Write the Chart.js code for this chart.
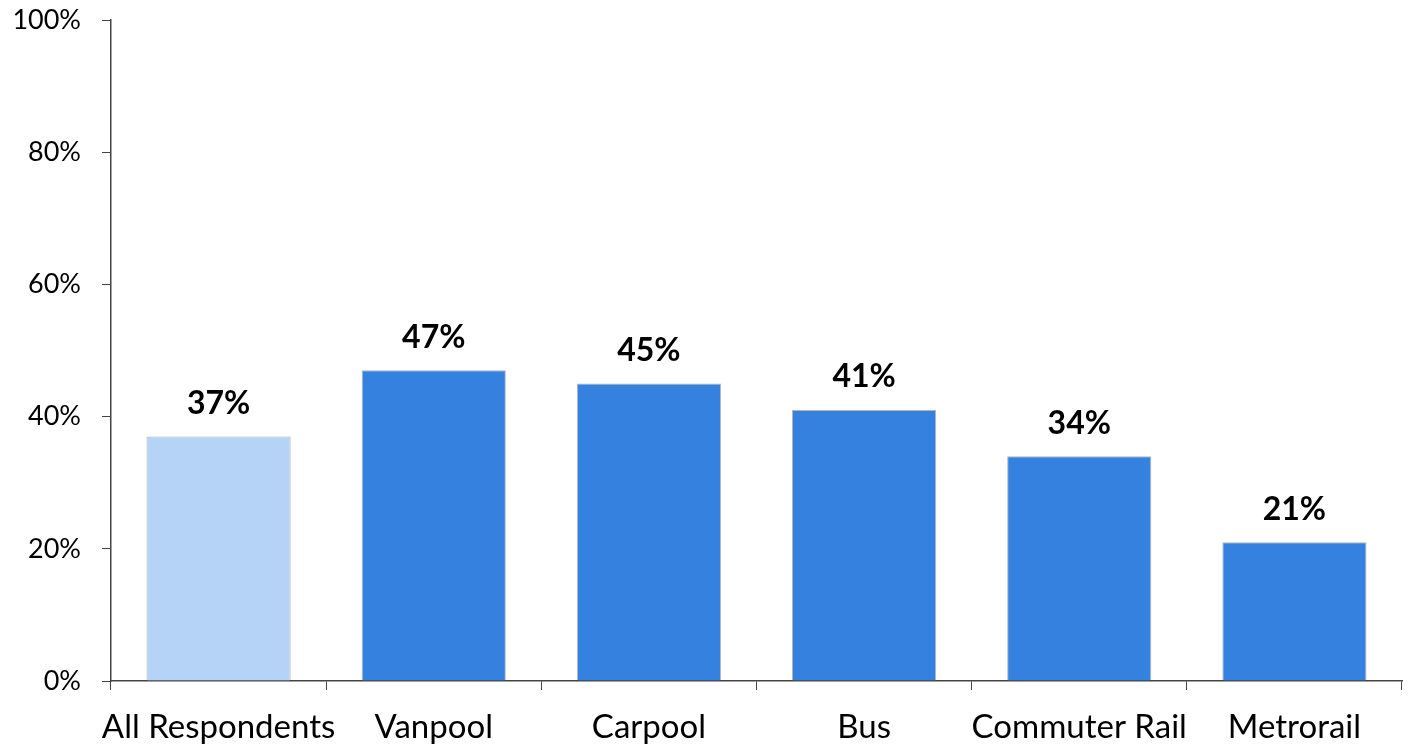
<!DOCTYPE html>
<html>
<head>
<meta charset="utf-8">
<script src="https://cdn.jsdelivr.net/npm/chart.js@4.4.1/dist/chart.umd.min.js"></script>
<style>
    html, body { margin: 0; padding: 0; background: #fff; }
    #wrap { width: 1412px; height: 746px; }
</style>
</head>
<body>
<div id="wrap"><canvas id="surveyChart"></canvas></div>
<script>
//Labels and values
const modes = ['All Respondents', 'Vanpool', 'Carpool', 'Bus', 'Commuter Rail', 'Metrorail'];
const shares = [37, 47, 45, 41, 34, 21];
const yTicks = [0, 20, 40, 60, 80, 100];

const lightBlue = 'rgb(181,210,247)';
const darkBlue = 'rgb(53,129,223)';

Chart.defaults.font.family = 'Lato';
Chart.defaults.color = '#000';

//draws the bold % above every bar
const barLabels = {
    id: 'barLabels',
    afterDatasetsDraw(chart) {
        const ctx = chart.ctx;
        const meta = chart.getDatasetMeta(0);
        ctx.save();
        ctx.font = 'bold 32px Lato';
        ctx.fillStyle = '#000';
        ctx.textAlign = 'center';
        ctx.textBaseline = 'middle';
        meta.data.forEach((bar, i) => {
            ctx.fillText(shares[i] + '%', bar.x, bar.y - 33);
        });
        ctx.restore();
    }
};

const ctx = document.getElementById('surveyChart');

new Chart(ctx, {
    type: 'bar',
    data: {
        labels: modes,
        datasets: [{
            data: shares,
            backgroundColor: modes.map((m, i) => i === 0 ? lightBlue : darkBlue),
            borderColor: 'rgba(90,90,90,0.45)',
            borderWidth: 1,
            borderSkipped: 'bottom',
            categoryPercentage: 1,
            barPercentage: 0.67
        }]
    },
    options: {
        responsive: true,
        maintainAspectRatio: false,
        animation: false,
        layout: {
            padding: { top: 20, right: 10, left: 0, bottom: 0 }
        },
        plugins: {
            legend: { display: false },
            tooltip: { enabled: false }
        },
        scales: {
            x: {
                grid: {
                    offset: true,
                    drawOnChartArea: false,
                    tickLength: 9,
                    color: '#444'
                },
                border: { color: '#444', width: 1.5 },
                ticks: {
                    font: { size: 33 },
                    padding: 18,
                    maxRotation: 0,
                    autoSkip: false
                },
                afterFit(scale) {
                    scale.height = 65;
                    scale.paddingLeft = 0;
                    scale.paddingRight = 0;
                }
            },
            y: {
                min: 0,
                max: 100,
                afterBuildTicks(scale) {
                    scale.ticks = yTicks.map(v => ({ value: v }));
                },
                grid: {
                    drawOnChartArea: false,
                    tickLength: 9,
                    color: '#444'
                },
                border: { color: '#444', width: 1.5 },
                ticks: {
                    font: { size: 27 },
                    padding: 21,
                    callback: v => v + '%'
                },
                afterFit(scale) {
                    scale.width = 111;
                    scale.paddingTop = 0;
                    scale.paddingBottom = 0;
                }
            }
        }
    },
    plugins: [barLabels]
});
</script>
</body>
</html>
